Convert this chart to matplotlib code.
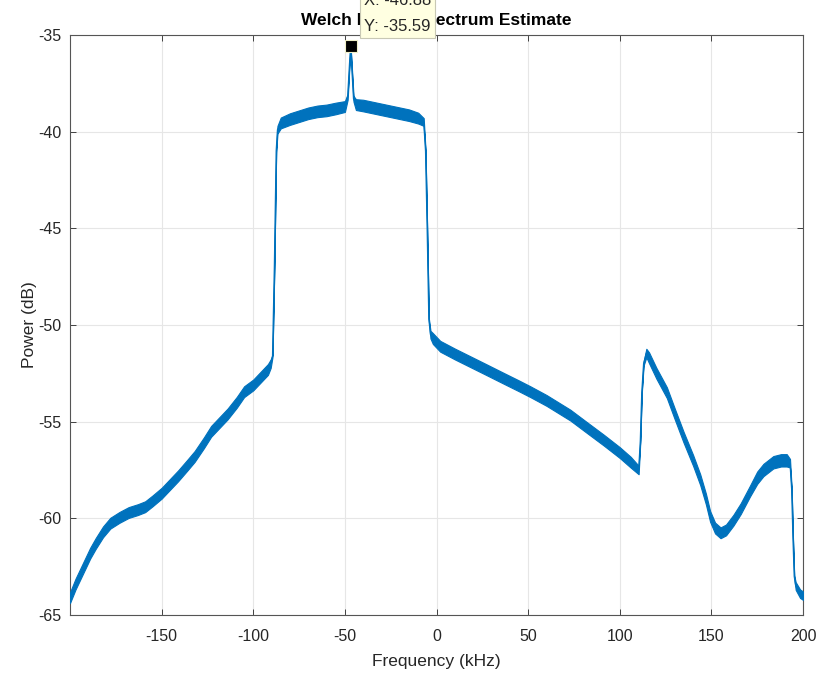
import matplotlib.pyplot as plt
import numpy as np

plt.rcParams['font.family'] = ['Liberation Sans', 'DejaVu Sans']
plt.rcParams['axes.unicode_minus'] = False

# spectrum trace: centre of the noisy trace and half-width of the noise band
freq_khz = [-200, -197, -193, -189, -186, -182, -178, -173, -168, -163, -159, -155, -150,
            -145, -141, -136, -132, -127, -123, -118, -114, -109, -105, -100, -96, -92,
            -90.5, -89.5, -88.5, -87.5, -86.8, -85, -80, -75, -70, -65, -60, -55, -50,
            -48.5, -47.5, -46.9, -46.3, -45.3, -44, -40, -35, -30, -25, -20, -15, -10,
            -7, -6, -5.1, -4.2, -3.3, -2, 2, 10, 18.5, 27, 36.7, 45, 51.2, 60, 73, 82,
            91.2, 100, 106, 110.3, 111.2, 112, 113, 114.5, 116, 120, 125.7, 130, 134.8,
            140, 143.9, 147, 149.3, 152, 155, 158, 162, 166, 171, 175, 178.4, 183.8, 188,
            191.1, 192.9, 193.8, 194.5, 195.2, 196, 198.4, 200]
power_db = [-64.1, -63.4, -62.6, -61.8, -61.3, -60.7, -60.25, -59.95, -59.7, -59.55, -59.4,
            -59.1, -58.7, -58.2, -57.8, -57.25, -56.8, -56.1, -55.5, -55.0, -54.6, -54.0,
            -53.45, -53.1, -52.7, -52.3, -52.0, -51.6, -47.0, -41.0, -39.9, -39.55, -39.35,
            -39.2, -39.05, -38.95, -38.9, -38.8, -38.7, -38.2, -36.5, -35.6, -36.6, -38.3,
            -38.6, -38.65, -38.75, -38.85, -38.95, -39.05, -39.15, -39.3, -39.5, -41.0,
            -45.1, -49.7, -50.5, -50.7, -51.1, -51.5, -51.9, -52.3, -52.76, -53.15, -53.45,
            -53.9, -54.66, -55.3, -55.95, -56.6, -57.1, -57.5, -56.0, -53.5, -52.0, -51.45,
            -51.7, -52.5, -53.5, -54.6, -55.8, -57.0, -58.0, -59.0, -59.9, -60.5, -60.75,
            -60.6, -60.1, -59.5, -58.6, -57.9, -57.5, -57.1, -57.0, -57.0, -57.15, -58.5,
            -61.0, -63.0, -63.5, -63.9, -64.0]
spread_db = [0.28, 0.28, 0.28, 0.28, 0.28, 0.28, 0.28, 0.28, 0.28, 0.28, 0.28, 0.28, 0.28,
             0.28, 0.28, 0.28, 0.28, 0.28, 0.28, 0.28, 0.28, 0.28, 0.28, 0.28, 0.28, 0.28,
             0.22, 0.05, 0.05, 0.05, 0.2, 0.28, 0.3, 0.3, 0.3, 0.3, 0.3, 0.3, 0.28,
             0.15, 0.08, 0.05, 0.08, 0.15, 0.28, 0.3, 0.3, 0.3, 0.3, 0.3, 0.3, 0.28,
             0.2, 0.05, 0.05, 0.05, 0.2, 0.28, 0.28, 0.28, 0.28, 0.28, 0.28, 0.28, 0.28, 0.28,
             0.28, 0.28, 0.28, 0.28, 0.28, 0.22, 0.05, 0.05, 0.1, 0.22, 0.28, 0.28, 0.28,
             0.28, 0.28, 0.28, 0.28, 0.28, 0.28, 0.28, 0.28, 0.28, 0.28, 0.28, 0.28, 0.32,
             0.32, 0.32, 0.32, 0.32, 0.22, 0.05, 0.05, 0.05, 0.2, 0.22, 0.22]

peak_freq = -46.88
peak_power = -35.59

x_ticks = [-150, -100, -50, 0, 50, 100, 150, 200]
y_ticks = [-65, -60, -55, -50, -45, -40, -35]

f = np.array(freq_khz)
p = np.array(power_db)
s = np.array(spread_db)

blue = '#0072BD'
dark = '#262626'

fig = plt.figure(figsize=(8.22, 6.73), dpi=100)
ax = fig.add_axes([0.0852, 0.0862, 0.8917, 0.8618])

ax.fill_between(f, p - s, p + s, color=blue, linewidth=0.8, zorder=3)
ax.plot(f, p, color=blue, linewidth=0.9, zorder=3)

ax.set_xlim(-200, 200)
ax.set_ylim(-65, -35)
ax.set_xticks(x_ticks)
ax.set_yticks(y_ticks)
ax.grid(True, color='#e6e6e6', linewidth=0.8)
ax.set_axisbelow(True)
ax.tick_params(direction='in', top=True, right=True, length=4, width=0.6,
               colors=dark, labelsize=11.5, pad=6)
ax.tick_params(axis='x', pad=10)
for sp in ax.spines.values():
    sp.set_color('#555555')
    sp.set_linewidth(0.8)

ax.set_xlabel('Frequency (kHz)', fontsize=12.5, color=dark, labelpad=7)
ax.set_ylabel('Power (dB)', fontsize=12.5, color=dark, labelpad=1)
ax.set_title('Welch Power Spectrum Estimate', fontsize=12.5, fontweight='bold', pad=7)

# data tip at the peak (its first line runs off the top of the figure, as in the original)
ax.plot(peak_freq, peak_power, 's', color='black', markersize=8,
        markeredgecolor='#f0f0c8', markeredgewidth=0.8, zorder=5, clip_on=False)
fig.text(364 / 822, 1 - 34 / 673, f'X: {peak_freq:.2f}\nY: {peak_power:.2f}',
         fontsize=12, color=dark, ha='left', va='bottom', zorder=10, linespacing=1.95,
         bbox=dict(boxstyle='square,pad=0.25', facecolor='#ffffe1',
                   edgecolor='#c8c8b4', linewidth=0.8))

fig.savefig('out.png', dpi=100)
